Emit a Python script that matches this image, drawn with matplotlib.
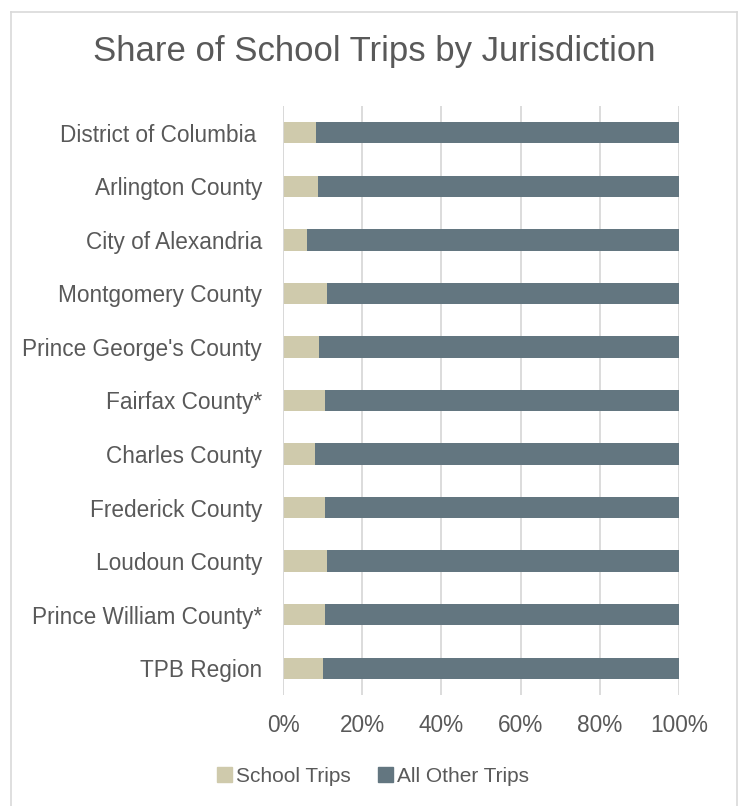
import matplotlib
matplotlib.use("Agg")
import matplotlib.pyplot as plt
from matplotlib.patches import Rectangle
from matplotlib.lines import Line2D
import numpy as np

categories = ["District of Columbia ", "Arlington County", "City of Alexandria",
              "Montgomery County", "Prince George's County", "Fairfax County*",
              "Charles County", "Frederick County", "Loudoun County",
              "Prince William County*", "TPB Region"]
school_trips = [8.4, 8.9, 6.1, 11.2, 9.1, 10.7, 8.0, 10.6, 11.1, 10.6, 10.0]
other_trips = [100 - v for v in school_trips]
xticks = [0, 20, 40, 60, 80, 100]
xtick_labels = ["0%", "20%", "40%", "60%", "80%", "100%"]

plt.rcParams['font.family'] = ['Liberation Sans', 'DejaVu Sans']
TXT = "#595959"
C_SCHOOL = "#CFCAAC"
C_OTHER = "#637680"
GRID = "#D9D9D9"

W, H = 742, 806
fig = plt.figure(figsize=(W/100, H/100), dpi=100)
ax = fig.add_axes([283/W, 1-695/H, (679-283)/W, (695-106)/H])

y = np.arange(len(categories))
ax.barh(y, school_trips, height=0.4, color=C_SCHOOL, label="School Trips", zorder=3)
ax.barh(y, other_trips, left=school_trips, height=0.4, color=C_OTHER,
        label="All Other Trips", zorder=3)

ax.set_xlim(0, 100)
ax.set_ylim(len(categories) - 0.5, -0.5)
ax.set_yticks(y)
ax.set_yticklabels(categories, fontsize=16.3, color=TXT)
ax.set_xticks(xticks)
ax.set_xticklabels(xtick_labels, fontsize=16.3, color=TXT)
ax.tick_params(axis='both', length=0)
ax.tick_params(axis='x', pad=14)
ax.tick_params(axis='y', pad=15)
ax.xaxis.grid(True, color=GRID, linewidth=1.3, zorder=0)
for s in ax.spines.values():
    s.set_visible(False)
ax.axvline(0, color=GRID, linewidth=1.3, zorder=4)

fig.text(374/W, 1-52/H, "Share of School Trips by Jurisdiction", ha='center',
         va='center', fontsize=25, color=TXT)

handles = [Rectangle((0, 0), 1, 1, color=C_SCHOOL), Rectangle((0, 0), 1, 1, color=C_OTHER)]
fig.legend(handles, ["School Trips", "All Other Trips"], loc='center',
           bbox_to_anchor=(373/W, 1-776/H), ncol=2, frameon=False, fontsize=15,
           labelcolor=TXT, handlelength=0.7, handleheight=0.7, handletextpad=0.2,
           columnspacing=1.3)

# chart border
fig.add_artist(Line2D([11/W, 11/W], [0, 1-12/H], color=GRID, linewidth=1.2))
fig.add_artist(Line2D([737/W, 737/W], [0, 1-12/H], color=GRID, linewidth=1.2))
fig.add_artist(Line2D([11/W, 737/W], [1-12/H, 1-12/H], color=GRID, linewidth=1.2))

fig.savefig("out.png", dpi=100)
